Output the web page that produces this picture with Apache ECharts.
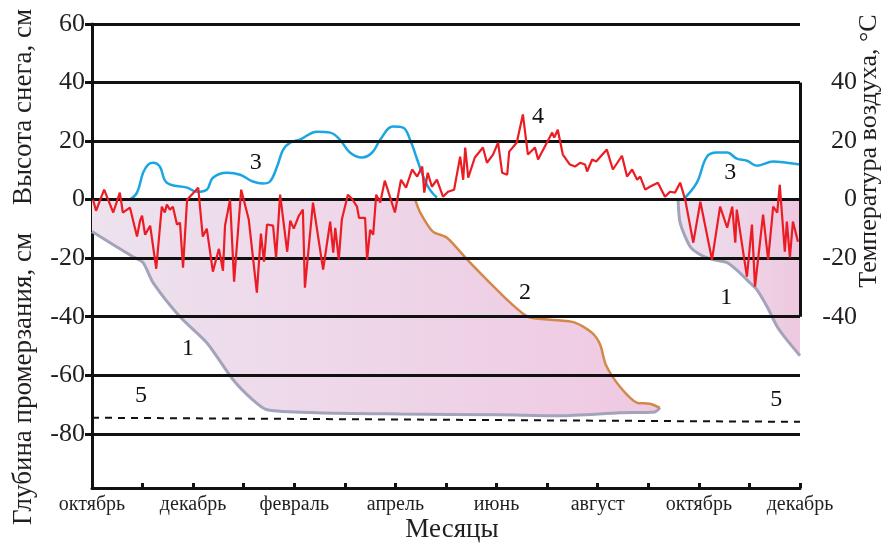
<!DOCTYPE html>
<html>
<head>
<meta charset="utf-8">
<script src="https://cdn.jsdelivr.net/npm/echarts@6/dist/echarts.min.js"></script>
<style>html,body{margin:0;padding:0;background:#fff}#c{width:896px;height:544px}</style>
</head>
<body>
<div id="c"></div>
<script>
// ---- data ----
const months = ['октябрь','декабрь','февраль','апрель','июнь','август','октябрь','декабрь'];
const depthTicks = [-80,-60,-40,-20,0,20,40,60];
const tempTicks = [-40,-20,0,20,40];

// curve 1: freezing depth, first winter (month index, cm)
const freezeDepth1 = [[0,-10.9],[0.81,-19.5],[1.01,-21.5],[1.21,-28.4],[1.74,-40.0],[2.27,-48.9],[2.79,-61.5],[3.18,-68.4],[3.46,-71.8],[4.45,-72.8],[6.09,-73.2],[8.07,-73.5],[9.25,-73.8],[10.44,-72.8],[11.13,-72.5],[11.23,-71.1]];
// curve 1: freezing depth, second winter
const freezeDepth2 = [[11.59,0],[11.63,-7.9],[11.83,-16.1],[12.03,-18.8],[12.28,-20.5],[12.56,-21.5],[12.81,-25],[13.01,-28.4],[13.15,-30.8],[13.35,-36.6],[13.55,-43.4],[13.74,-47.9],[14.0,-53.3]];
// curve 2: thaw depth
const thawDepth = [[6.39,0],[6.49,-4.4],[6.74,-10.9],[7.02,-13.0],[7.42,-20.5],[7.81,-27.4],[8.27,-35.2],[8.62,-40],[9.06,-41],[9.55,-42],[9.89,-45.5],[10.05,-49.6],[10.16,-56.4],[10.44,-63.9],[10.78,-69.4],[11.03,-69.7],[11.23,-71.1]];
// curve 3: snow height
const snow1 = [[0.75,0],[0.89,2.4],[1.01,9.2],[1.11,12.0],[1.21,12.6],[1.34,11.3],[1.48,5.8],[1.88,4.1],[2.08,2.7],[2.27,3.4],[2.39,7.5],[2.67,9.2],[2.93,8.5],[3.18,6.2],[3.38,5.5],[3.52,6.2],[3.66,11.3],[3.78,17.1],[3.92,19.5],[4.11,20.5],[4.45,23.2],[4.71,22.9],[4.90,20.5],[5.10,16.1],[5.34,14.4],[5.54,16.1],[5.70,20.5],[5.95,25.0],[6.15,24.6],[6.29,20.5],[6.43,13.7],[6.55,7.9],[6.68,3.4],[6.82,0.7]];
const snow2 = [[11.69,0],[11.96,5.8],[12.16,14.7],[12.36,16.1],[12.56,16.1],[12.75,14.0],[12.95,13.3],[13.15,11.6],[13.47,13.0],[13.74,12.6],[14.0,12.0]];
// curve 4: air temperature, °C
const airTemp = [[0.02,0],[0.08,-3.8],[0.24,3.4],[0.42,-4.4],[0.55,2.4],[0.61,-4.4],[0.75,-2.7],[0.89,-12.6],[0.95,-7.2],[0.99,-5.5],[1.05,-12.0],[1.15,-8.9],[1.27,-23.6],[1.38,-2.4],[1.44,-4.4],[1.48,-1.7],[1.54,-3.4],[1.60,-2.4],[1.68,-8.5],[1.74,-7.9],[1.80,-23.2],[1.88,0],[2.10,4.1],[2.19,-12.6],[2.27,-9.9],[2.39,-24.6],[2.51,-16.8],[2.59,-24.3],[2.63,-8.9],[2.73,0],[2.81,-28.0],[2.95,3.4],[3.10,-6.8],[3.26,-31.8],[3.34,-11.6],[3.40,-21.2],[3.46,-8.5],[3.58,-8.9],[3.64,-19.8],[3.72,1.7],[3.86,-17.8],[3.92,-7.2],[3.99,-9.9],[4.09,-5.5],[4.17,-3.4],[4.21,-30.1],[4.37,-1.0],[4.57,-23.9],[4.71,-7.5],[4.77,-18.1],[4.81,-9.6],[4.88,-20.5],[4.94,-6.8],[5.06,1.7],[5.14,0.3],[5.24,-2.4],[5.28,-6.2],[5.40,-6.2],[5.44,-20.5],[5.50,-10.3],[5.56,-12.0],[5.62,1.7],[5.70,-1.0],[5.79,6.5],[5.99,-4.4],[6.11,6.8],[6.21,4.1],[6.33,10.3],[6.43,7.9],[6.53,11.3],[6.57,2.4],[6.64,9.2],[6.72,4.4],[6.82,6.8],[6.94,1.0],[7.04,2.7],[7.16,3.4],[7.28,14.7],[7.34,6.8],[7.38,17.8],[7.44,7.5],[7.57,14.4],[7.73,17.8],[7.81,12.6],[7.93,15.4],[8.03,19.5],[8.11,9.2],[8.21,8.5],[8.25,16.4],[8.40,19.5],[8.52,29.1],[8.62,15.4],[8.76,17.8],[8.82,13.7],[9.10,22.9],[9.14,21.2],[9.21,23.9],[9.31,15.4],[9.45,12.0],[9.55,11.3],[9.65,12.6],[9.75,12.0],[9.79,9.6],[9.89,13.7],[9.97,13.0],[10.18,17.1],[10.30,10.3],[10.48,15.0],[10.58,7.9],[10.68,10.3],[10.78,6.8],[10.84,7.9],[10.94,3.4],[11.03,4.4],[11.19,5.8],[11.33,1.0],[11.43,2.7],[11.53,2.4],[11.63,5.8],[11.73,0],[11.89,-14.7],[12.03,-0.7],[12.26,-20.5],[12.42,-2.4],[12.56,-9.6],[12.66,-2.4],[12.72,-14.7],[12.75,-3.4],[12.95,-26.3],[13.05,-8.5],[13.11,-29.7],[13.27,-5.1],[13.37,-20.5],[13.47,-2.4],[13.55,-4.4],[13.60,5.1],[13.70,-17.8],[13.74,-7.5],[13.80,-19.8],[13.86,-7.5],[13.96,-14.4]];
// line 5: permafrost table
const permafrost = [[0,-74.5],[14,-75.9]];
// curve number labels [month, value, text]
const curveLabels = [[1.9,-51,'1'],[12.54,-33.5,'1'],[8.56,-31.8,'2'],[3.24,12.6,'3'],[12.62,9.2,'3'],[8.82,28.4,'4'],[0.97,-67,'5'],[13.53,-68.4,'5']];

// ---- chart ----
const SERIF = '"Liberation Serif", "DejaVu Serif", serif';
const TXT = '#231f20';
const chart = echarts.init(document.getElementById('c'), null, {renderer:'canvas'});

const poly1 = [[0,0],[thawDepth[0][0],0]].concat(thawDepth.slice(1)).concat(freezeDepth1.slice(0,-1).reverse());
const poly2 = freezeDepth2.concat([[14,0]]);

function polyRender(points, c0, c1){
  return function(params, api){
    const pts = points.map(p => api.coord(p));
    return {
      type:'polygon',
      shape:{points:pts},
      style:{fill:new echarts.graphic.LinearGradient(0,0,1,0,[{offset:0,color:c0},{offset:1,color:c1}])},
      silent:true
    };
  };
}

const gridLineData = depthTicks.map(v => ({yAxis:v}));
gridLineData.push([{coord:[14,40]},{coord:[14,-40]}]);

chart.setOption({
  animation:false,
  backgroundColor:'#ffffff',
  grid:{left:92, right:96, top:24, height:464},
  xAxis:{
    type:'value', min:0, max:14, interval:1,
    axisLine:{show:true, onZero:false, lineStyle:{color:'#111', width:3}},
    axisTick:{show:true, inside:true, length:5, lineStyle:{color:'#111', width:3}},
    axisLabel:{margin:7, fontFamily:SERIF, fontSize:20, color:TXT,
      formatter:v => (v % 2 === 0 ? months[v/2] : '')},
    splitLine:{show:false}
  },
  yAxis:[{
    type:'value', min:-98.5, max:60, position:'left',
    axisLine:{show:true, lineStyle:{color:'#111', width:3}},
    axisTick:{show:true, length:7, customValues:depthTicks, lineStyle:{color:'#111', width:3}},
    axisLabel:{customValues:depthTicks, margin:7, fontFamily:SERIF, fontSize:26, color:TXT},
    splitLine:{show:false}
  },{
    type:'value', min:-98.5, max:60, position:'right',
    axisLine:{show:false}, axisTick:{show:false},
    axisLabel:{customValues:tempTicks, margin:57, align:'right', fontFamily:SERIF, fontSize:26, color:TXT},
    splitLine:{show:false}
  }],
  series:[
    {type:'custom', z:1, data:[[0,0]], renderItem:polyRender(poly1,'#ede2ee','#efc9e2'), silent:true},
    {type:'custom', z:1, data:[[12,0]], renderItem:polyRender(poly2,'#ece1ee','#eec8df'), silent:true},
    {type:'line', z:2, data:permafrost, symbol:'none', silent:true,
      lineStyle:{color:'#111', width:2, type:[7,6]},
      markLine:{silent:true, symbol:'none', label:{show:false},
        lineStyle:{color:'#111', width:3, type:'solid'}, data:gridLineData}},
    {type:'line', z:3, data:freezeDepth1, symbol:'none', smooth:0.25, lineStyle:{color:'#a3a4bb', width:3}},
    {type:'line', z:3, data:freezeDepth2, symbol:'none', smooth:0.25, lineStyle:{color:'#a3a4bb', width:3}},
    {type:'line', z:3, data:thawDepth, symbol:'none', smooth:0.25, lineStyle:{color:'#d3884a', width:2.5}},
    {type:'line', z:4, data:snow1, symbol:'none', smooth:0.4, lineStyle:{color:'#1ba6e2', width:2.5}},
    {type:'line', z:4, data:snow2, symbol:'none', smooth:0.4, lineStyle:{color:'#1ba6e2', width:2.5}},
    {type:'line', z:5, yAxisIndex:1, data:airTemp, symbol:'none', lineStyle:{color:'#ec1c24', width:2.2}},
    {type:'scatter', z:6, data:curveLabels, symbolSize:0, silent:true,
      itemStyle:{opacity:1},
      label:{show:true, position:'inside', opacity:1, formatter:p => p.value[2], fontFamily:SERIF, fontSize:24, color:'#111'}}
  ],
  graphic:[
    {type:'text', x:24, y:107, rotation:Math.PI/2, silent:true,
      style:{text:'Высота снега, см', font:'27px '+SERIF, fill:TXT, textAlign:'center', textVerticalAlign:'middle', align:'center', verticalAlign:'middle'}},
    {type:'text', x:24, y:379, rotation:Math.PI/2, silent:true,
      style:{text:'Глубина промерзания, см', font:'27px '+SERIF, fill:TXT, textAlign:'center', textVerticalAlign:'middle', align:'center', verticalAlign:'middle'}},
    {type:'text', x:869, y:151, rotation:Math.PI/2, silent:true,
      style:{text:'Температура воздуха, °С', font:'26px '+SERIF, fill:TXT, textAlign:'center', textVerticalAlign:'middle', align:'center', verticalAlign:'middle'}},
    {type:'text', x:452, y:530, silent:true,
      style:{text:'Месяцы', font:'27px '+SERIF, fill:TXT, textAlign:'center', textVerticalAlign:'middle', align:'center', verticalAlign:'middle'}}
  ]
});
</script>
</body>
</html>
